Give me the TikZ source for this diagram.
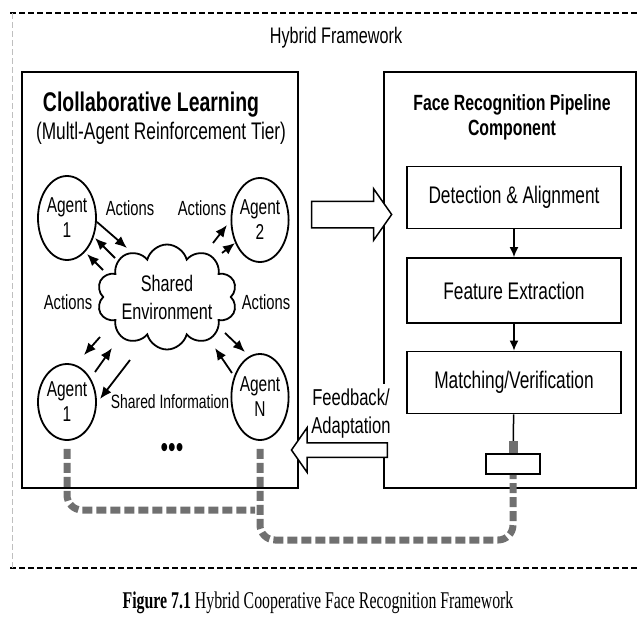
\documentclass[tikz,border=0pt]{standalone}
\usepackage{fontspec}
\setmainfont{Liberation Sans}[FakeStretch=0.72]
\newfontfamily\capfont{Liberation Serif}[FakeStretch=0.66]
\usetikzlibrary{shapes.geometric,shapes.symbols,shapes.arrows,arrows.meta,calc}
\definecolor{trail}{RGB}{112,112,112}
\newcommand{\fsz}[2]{\fontsize{#1}{#2}\selectfont}

\begin{document}
\begin{tikzpicture}[x=1pt, y=-1pt,
    every node/.style={inner sep=0pt, align=center},
    txt/.style={font=\fsz{22.5}{28}},
    agent/.style={ellipse, draw, line width=1.8pt, minimum width=58pt, minimum height=84pt, font=\fsz{21.5}{25}},
    stage/.style={draw, line width=1.8pt, minimum width=214pt, minimum height=62pt, font=\fsz{24}{28}},
    panel/.style={draw, line width=1.8pt},
    act/.style={line width=1.8pt, -{Latex[length=12pt,width=10pt]}},
    flow/.style={line width=1.5pt, -{Latex[length=10pt,width=9pt]}},
    trailline/.style={trail, line width=7pt, dash pattern=on 10pt off 4pt, rounded corners=15pt},
    bigarrow/.style={single arrow, draw, line width=1.5pt, fill=white, single arrow tip angle=110, inner xsep=0pt, minimum width=0pt}]
    \useasboundingbox (0,0) rectangle (637,621);

    % outer frame
    \draw[line width=1.5pt, dash pattern=on 6pt off 3pt] (10,13) -- (637,13);
    \draw[line width=1.5pt, dash pattern=on 6pt off 3pt] (10,568) -- (637,568);
    \draw[gray!50, line width=0.8pt, dash pattern=on 6pt off 3pt] (12,13) -- (12,568);
    \node[txt] (hyb) at (336,38) {Hybrid Framework};

    % the two tiers
    \node[panel, minimum width=276pt, minimum height=416pt] (learn) at (160,280) {};
    \node[panel, minimum width=252pt, minimum height=416pt] (pipe) at (510,280) {};
    \node[font=\bfseries\fsz{27}{30}] (learnT) at (151,105) {Clollaborative Learning};
    \node[font=\fsz{24}{26}] (learnS) at (161,133) {(Multl-Agent Reinforcement Tier)};
    \node[font=\bfseries\fsz{22}{25}] (pipeT) at (512,117) {Face Recognition Pipeline\\Component};

    % agents round the shared environment
    \node[agent] (ag1) at (67,218) {Agent\\1};
    \node[agent, minimum width=56pt] (ag2) at (260,220) {Agent\\2};
    \node[agent, minimum height=76pt] (ag3) at (67,402) {Agent\\1};
    \node[agent, minimum width=56pt, minimum height=86pt] (agN) at (260,397) {Agent\\N};
    \node[cloud, draw, line width=1.8pt, cloud puffs=10, aspect=1.35, minimum width=140pt, minimum height=105pt] (env) at (167,297) {};
    \node[txt] (envT) at (env) {Shared\\Environment};

    \node[font=\fsz{20.5}{23}] (act1) at (130,208) {Actions};
    \node[font=\fsz{20.5}{23}] (act2) at (202,208) {Actions};
    \node[font=\fsz{20.5}{23}] (act3) at (68,302) {Actions};
    \node[font=\fsz{20.5}{23}] (act4) at (266,302) {Actions};
    \node[font=\fsz{19.3}{22}] (shinfo) at (170,402) {Shared Information};
    \node[font=\fsz{30}{30}] (dots) at (172,450) {•••};

    \draw[act] ($(ag1)+(30,4)$) -- ($(env)+(-40,-49)$);
    \draw[act] ($(env)+(-52,-39)$) -- ($(ag1)+(28,20)$);
    \draw[act] ($(env)+(-64,-27)$) -- ($(ag1)+(20,36)$);
    \draw[act] ($(env)+(46,-54)$) -- ($(ag2)+(-33,5)$);
    \draw[act] ($(env)+(55,-44)$) -- ($(ag2)+(-25,23)$);
    \draw[act] ($(env)+(58,36)$) -- ($(agN)+(-15,-45)$);
    \draw[act] ($(agN)+(-28,-24)$) -- ($(env)+(48,51)$);
    \draw[act] ($(env)+(-67,40)$) -- ($(ag3)+(17,-47)$);
    \draw[act] ($(ag3)+(28,-30)$) -- ($(env)+(-55,51)$);
    \draw[act] ($(env)+(-37,63)$) -- ($(ag3)+(33,-3)$);

    % pipeline
    \node[stage] (det) at (514,197.5) {Detection \& Alignment};
    \node[stage, minimum height=65pt] (feat) at (514,290.5) {Feature Extraction};
    \node[stage] (match) at (514,382.5) {Matching/Verification};
    \draw[flow] (det) -- (feat);
    \draw[flow] (feat) -- (match);
    \node[draw, line width=1.8pt, minimum width=54pt, minimum height=20pt] (buf) at (513,464) {};
    \draw[line width=1.5pt] (match) -- (buf);
    \draw[trail, line width=9pt] ([yshift=12pt]buf.north) -- (buf.north);

    % links between tiers
    \node[bigarrow, inner ysep=12.5pt, single arrow head extend=12.5pt, minimum height=80pt] (toPipe) at (347,214.5) {};
    \node[font=\fsz{23}{28}, fill=white, inner sep=5pt] (fbT) at (351,414) {Feedback/\\Adaptation};
    \node[bigarrow, shape border rotate=180, inner ysep=6.5pt, single arrow head extend=15pt, minimum height=96pt] (toLearn) at (342,450) {};

    % shared trail
    \coordinate (bendL) at (255,510);
    \coordinate (bendR) at (390,540);
    \draw[trailline] ([yshift=-8pt]ag3.south) |- (bendL);
    \draw[trailline] ([yshift=-8pt]agN.south) |- (bendR) -| (buf.south);

    \node[font=\capfont\fsz{24}{28}] (cap) at (318,603) {\textbf{Figure 7.1} Hybrid Cooperative Face Recognition Framework};
\end{tikzpicture}
\end{document}
